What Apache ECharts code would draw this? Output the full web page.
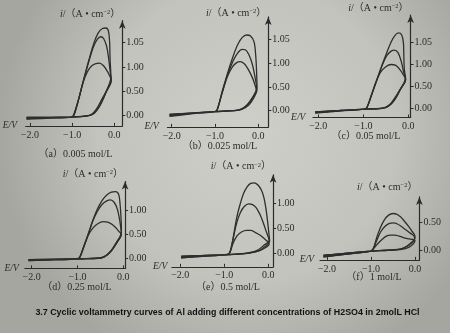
<!DOCTYPE html>
<html><head><meta charset="utf-8">
<script src="https://cdn.jsdelivr.net/npm/echarts@6/dist/echarts.min.js"></script>
<style>html,body{margin:0;padding:0;background:#bdbdb7}#c{width:450px;height:333px}</style>
</head><body><div id="c"></div>
<script>
// ---------- data ----------
const xTickValues = [-2, -1, 0];
const xTickLabels = ["−2.0", "−1.0", "0.0"];
const yTickLabels = ["0.00", "0.50", "1.00", "1.05"];   // printed labels at 0, 0.5, 1.0, 1.5
const yTickCounts = [4, 4, 4, 3, 3, 2];
const panelCaptions = ["（a）0.005 mol/L", "（b）0.025 mol/L", "（c）0.05 mol/L",
                       "（d）0.25 mol/L", "（e）0.5 mol/L", "（f）1 mol/L"];
const xAxisName = "E/V";
const yAxisName = "{it|i}/（A • cm{sup|−2}）";
const figureCaption = "3.7 Cyclic voltammetry curves of Al adding different concentrations of H2SO4 in 2molL HCl";

// panel (a) 0.005 mol/L — E (V), i (A·cm⁻²)
const scanA1 = [[-2.08,-0.07],[-1.5,-0.05],[-1.02,-0.03],[-0.96,0.02],[-0.85,0.33],[-0.73,0.73],[-0.6,1.15],[-0.48,1.5],[-0.38,1.7],[-0.28,1.79],[-0.2,1.8],[-0.14,1.74],[-0.11,1.5],[-0.1,1.15],[-0.08,0.8],[-0.18,0.52],[-0.32,0.24],[-0.46,0.06],[-0.6,0.0],[-0.8,-0.02],[-1.2,-0.03],[-2.08,-0.03]];
const scanA2 = [[-2.08,-0.06],[-1.5,-0.04],[-1.02,-0.03],[-0.96,0.02],[-0.85,0.32],[-0.73,0.72],[-0.6,1.12],[-0.5,1.4],[-0.4,1.57],[-0.32,1.62],[-0.25,1.58],[-0.18,1.42],[-0.13,1.15],[-0.09,0.85],[-0.07,0.74],[-0.2,0.47],[-0.36,0.18],[-0.5,0.04],[-0.62,0.0],[-1.0,-0.03],[-2.08,-0.04]];
const scanA3 = [[-2.08,-0.06],[-1.5,-0.04],[-1.0,-0.03],[-0.95,0.02],[-0.85,0.32],[-0.74,0.68],[-0.64,0.9],[-0.54,1.02],[-0.44,1.07],[-0.35,1.08],[-0.26,1.03],[-0.17,0.92],[-0.1,0.8],[-0.07,0.72],[-0.16,0.55],[-0.28,0.36],[-0.42,0.14],[-0.55,0.02],[-0.7,-0.01],[-1.0,-0.03],[-2.08,-0.05]];
// panel (b) 0.025 mol/L
const scanB1 = [[-2.05,-0.12],[-1.5,-0.06],[-1.0,-0.02],[-0.95,0.02],[-0.83,0.42],[-0.7,0.82],[-0.58,1.15],[-0.47,1.4],[-0.37,1.54],[-0.27,1.59],[-0.18,1.57],[-0.1,1.45],[-0.06,1.15],[-0.04,0.8],[-0.03,0.45],[-0.1,0.28],[-0.22,0.12],[-0.38,0.03],[-0.55,0.0],[-0.8,-0.01],[-1.2,-0.03],[-2.05,-0.08]];
const scanB2 = [[-2.05,-0.11],[-1.5,-0.05],[-1.0,-0.02],[-0.95,0.02],[-0.83,0.4],[-0.7,0.78],[-0.58,1.05],[-0.47,1.22],[-0.38,1.29],[-0.3,1.28],[-0.22,1.18],[-0.14,0.98],[-0.08,0.72],[-0.04,0.48],[-0.12,0.3],[-0.25,0.13],[-0.4,0.03],[-0.6,0.0],[-1.0,-0.02],[-2.05,-0.08]];
const scanB3 = [[-2.05,-0.1],[-1.5,-0.05],[-1.0,-0.02],[-0.95,0.02],[-0.84,0.36],[-0.72,0.7],[-0.6,0.92],[-0.5,1.01],[-0.42,1.03],[-0.33,0.99],[-0.24,0.88],[-0.14,0.7],[-0.07,0.52],[-0.04,0.42],[-0.14,0.26],[-0.28,0.1],[-0.45,0.02],[-0.62,0.0],[-1.0,-0.02],[-2.05,-0.09]];
// panel (c) 0.05 mol/L
const scanC1 = [[-2.07,-0.11],[-1.5,-0.06],[-0.98,-0.02],[-0.92,0.02],[-0.82,0.3],[-0.7,0.65],[-0.58,1.0],[-0.48,1.27],[-0.38,1.52],[-0.3,1.66],[-0.22,1.72],[-0.15,1.68],[-0.11,1.5],[-0.1,1.2],[-0.09,0.9],[-0.06,0.66],[-0.17,0.44],[-0.3,0.2],[-0.44,0.05],[-0.58,0.0],[-0.9,-0.02],[-2.07,-0.08]];
const scanC2 = [[-2.07,-0.1],[-1.5,-0.05],[-0.98,-0.02],[-0.92,0.02],[-0.82,0.3],[-0.7,0.64],[-0.58,0.98],[-0.48,1.2],[-0.39,1.3],[-0.31,1.33],[-0.23,1.27],[-0.16,1.08],[-0.11,0.85],[-0.07,0.68],[-0.2,0.4],[-0.34,0.15],[-0.48,0.03],[-0.62,0.0],[-0.95,-0.02],[-2.07,-0.08]];
const scanC3 = [[-2.07,-0.1],[-1.5,-0.05],[-0.98,-0.02],[-0.92,0.02],[-0.82,0.3],[-0.72,0.6],[-0.62,0.82],[-0.5,0.95],[-0.38,1.0],[-0.28,0.98],[-0.2,0.9],[-0.12,0.78],[-0.06,0.66],[-0.14,0.5],[-0.26,0.3],[-0.4,0.1],[-0.54,0.01],[-0.7,-0.01],[-1.0,-0.02],[-2.07,-0.09]];
// panel (d) 0.25 mol/L
const scanD1 = [[-2.07,-0.05],[-1.5,-0.03],[-1.0,-0.01],[-0.95,0.02],[-0.86,0.25],[-0.76,0.52],[-0.66,0.8],[-0.56,1.03],[-0.46,1.2],[-0.36,1.31],[-0.26,1.37],[-0.17,1.38],[-0.1,1.32],[-0.07,1.12],[-0.05,0.85],[-0.04,0.6],[-0.05,0.5],[-0.15,0.33],[-0.28,0.14],[-0.42,0.03],[-0.56,0.0],[-0.9,-0.01],[-2.07,-0.03]];
const scanD2 = [[-2.07,-0.05],[-1.5,-0.03],[-1.0,-0.01],[-0.95,0.02],[-0.86,0.25],[-0.76,0.51],[-0.66,0.78],[-0.56,0.98],[-0.46,1.12],[-0.36,1.19],[-0.28,1.21],[-0.2,1.16],[-0.13,1.02],[-0.08,0.8],[-0.05,0.6],[-0.04,0.5],[-0.14,0.32],[-0.28,0.13],[-0.42,0.03],[-0.58,0.0],[-0.9,-0.01],[-2.07,-0.03]];
const scanD3 = [[-2.07,-0.04],[-1.5,-0.03],[-1.0,-0.01],[-0.95,0.02],[-0.86,0.24],[-0.76,0.48],[-0.66,0.63],[-0.55,0.72],[-0.44,0.76],[-0.34,0.75],[-0.24,0.7],[-0.15,0.62],[-0.08,0.54],[-0.04,0.5],[-0.12,0.36],[-0.24,0.18],[-0.38,0.05],[-0.52,0.0],[-0.9,-0.01],[-2.07,-0.04]];
// panel (e) 0.5 mol/L
const scanE1 = [[-1.98,-0.09],[-1.5,-0.06],[-0.92,-0.02],[-0.87,0.02],[-0.8,0.3],[-0.72,0.7],[-0.64,0.98],[-0.56,1.2],[-0.48,1.33],[-0.4,1.4],[-0.32,1.41],[-0.24,1.37],[-0.16,1.27],[-0.1,1.12],[-0.05,0.88],[-0.01,0.6],[0.02,0.35],[0.03,0.24],[-0.08,0.13],[-0.22,0.05],[-0.4,0.01],[-0.6,-0.01],[-1.0,-0.03],[-1.98,-0.06]];
const scanE2 = [[-1.98,-0.09],[-1.5,-0.06],[-0.92,-0.02],[-0.87,0.02],[-0.8,0.28],[-0.72,0.6],[-0.63,0.82],[-0.54,0.94],[-0.45,0.99],[-0.37,0.98],[-0.28,0.92],[-0.19,0.78],[-0.11,0.6],[-0.04,0.42],[0.01,0.3],[0.02,0.25],[-0.1,0.16],[-0.25,0.06],[-0.45,0.01],[-0.65,-0.01],[-1.0,-0.03],[-1.98,-0.06]];
const scanE3 = [[-1.98,-0.08],[-1.5,-0.05],[-0.92,-0.02],[-0.87,0.02],[-0.8,0.2],[-0.71,0.35],[-0.6,0.43],[-0.5,0.46],[-0.4,0.46],[-0.3,0.42],[-0.2,0.37],[-0.1,0.3],[-0.02,0.24],[0.02,0.18],[-0.05,0.12],[-0.18,0.06],[-0.35,0.02],[-0.6,-0.01],[-1.0,-0.03],[-1.98,-0.06]];
// panel (f) 1 mol/L
const scanF1 = [[-2.08,-0.13],[-1.5,-0.07],[-1.0,-0.02],[-0.95,0.02],[-0.88,0.2],[-0.8,0.38],[-0.7,0.54],[-0.6,0.63],[-0.5,0.66],[-0.42,0.65],[-0.33,0.6],[-0.24,0.52],[-0.15,0.43],[-0.07,0.34],[0.0,0.25],[0.0,0.22],[-0.1,0.12],[-0.24,0.04],[-0.4,0.01],[-0.6,0.0],[-1.0,-0.02],[-2.08,-0.1]];
const scanF2 = [[-2.08,-0.12],[-1.5,-0.07],[-1.0,-0.02],[-0.95,0.02],[-0.87,0.17],[-0.78,0.33],[-0.68,0.43],[-0.58,0.48],[-0.49,0.49],[-0.4,0.47],[-0.3,0.42],[-0.2,0.36],[-0.1,0.3],[-0.02,0.25],[-0.01,0.2],[-0.12,0.1],[-0.28,0.03],[-0.45,0.0],[-0.7,-0.01],[-1.0,-0.02],[-2.08,-0.1]];
const scanF3 = [[-2.08,-0.12],[-1.5,-0.07],[-1.0,-0.02],[-0.95,0.02],[-0.86,0.1],[-0.75,0.19],[-0.65,0.25],[-0.56,0.27],[-0.46,0.27],[-0.36,0.25],[-0.25,0.22],[-0.14,0.2],[-0.05,0.19],[0.0,0.17],[-0.08,0.08],[-0.2,0.03],[-0.4,0.0],[-0.7,-0.01],[-1.0,-0.02],[-2.08,-0.1]];

const panelScans = [[scanA1,scanA2,scanA3],[scanB1,scanB2,scanB3],[scanC1,scanC2,scanC3],
                    [scanD1,scanD2,scanD3],[scanE1,scanE2,scanE3],[scanF1,scanF2,scanF3]];

// ---------- layout / style ----------
const layout = [
  {left:25.7, top:20.7, width:96.6, height:105.2, xMin:-2.1,  xMax:0.19, yMin:-0.21, yMax:1.95, nameGap:6,  evRaise:0,  cap:[75.5,154]},
  {left:167.4,top:16.9, width:100.9,height:110,   xMin:-2.1,  xMax:0.23, yMin:-0.34, yMax:1.97, nameGap:4,  evRaise:10, cap:[220,146.7]},
  {left:312.9,top:15.0, width:97.7, height:102.5, xMin:-2.12, xMax:0.05, yMin:-0.21, yMax:2.13, nameGap:7,  evRaise:0,  cap:[366,136.7]},
  {left:24.8, top:181.5,width:100.3,height:86.9,  xMin:-2.15, xMax:0.04, yMin:-0.21, yMax:1.59, nameGap:7.5,evRaise:0,  cap:[77,287.3]},
  {left:171.9,top:174.8,width:101.2,height:92,    xMin:-2.19, xMax:0.11, yMin:-0.27, yMax:1.57, nameGap:8,  evRaise:12, cap:[228,287.3]},
  {left:320,  top:196.9,width:99.4, height:63,    xMin:-2.16, xMax:0.10, yMin:-0.18, yMax:0.96, nameGap:10, evRaise:4,  cap:[374,277.3]}
];
const ink = '#2b2b2b';
const serif = '"Liberation Serif", "Noto Sans CJK SC", serif';

const grid = [], xAxis = [], yAxis = [], series = [], graphic = [];
layout.forEach((L, k) => {
  grid.push({left:L.left, top:L.top, width:L.width, height:L.height});
  const yVals = [0, 0.5, 1.0, 1.5].slice(0, yTickCounts[k]);
  xAxis.push({
    type:'value', gridIndex:k, min:L.xMin, max:L.xMax, position:'bottom',
    axisLine:{onZero:false, lineStyle:{color:ink, width:1.2}},
    axisTick:{inside:true, length:3, customValues:xTickValues, lineStyle:{color:ink}},
    axisLabel:{customValues:xTickValues, margin:4, color:ink, fontFamily:serif, fontSize:10,
      formatter: v => xTickLabels[xTickValues.indexOf(v)]},
    splitLine:{show:false},
    name:xAxisName, nameLocation:'start', nameGap:2,
    nameTextStyle:{fontStyle:'italic', fontFamily:serif, fontSize:9.5, color:ink,
      verticalAlign:'middle', padding:[0,0,L.evRaise,0]}
  });
  yAxis.push({
    type:'value', gridIndex:k, min:L.yMin, max:L.yMax, position:'right',
    axisLine:{show:true, onZero:false, symbol:['none','arrow'], symbolSize:[5,8], lineStyle:{color:ink, width:1.2}},
    axisTick:{show:true, inside:false, length:3, customValues:yVals, lineStyle:{color:ink}},
    axisLabel:{customValues:yVals, margin:4, color:ink, fontFamily:serif, fontSize:10,
      formatter: v => yTickLabels[Math.round(v / 0.5)]},
    splitLine:{show:false},
    name:yAxisName, nameLocation:'end', nameGap:L.nameGap,
    nameTextStyle:{align:'right', verticalAlign:'middle', padding:[0,2,0,0], fontFamily:serif, fontSize:10, color:ink,
      rich:{it:{fontStyle:'italic', fontFamily:serif, fontSize:10, color:ink},
            sup:{fontFamily:serif, fontSize:6.5, color:ink, verticalAlign:'top', padding:[0,0,4,0]}}}
  });
  panelScans[k].forEach(scan => {
    series.push({type:'line', xAxisIndex:k, yAxisIndex:k, data:scan, showSymbol:false, smooth:0.35,
      silent:true, lineStyle:{color:'#2e2e2e', width:1.3}});
  });
  graphic.push({type:'text', x:L.cap[0], y:L.cap[1],
    style:{text:panelCaptions[k], align:'center', verticalAlign:'middle', fill:ink, font:'10px ' + serif}});
});
graphic.push({type:'text', x:227.5, y:312.5,
  style:{text:figureCaption, align:'center', verticalAlign:'middle', fill:'#111',
         font:'bold 8.9px "Liberation Sans", Arial, sans-serif'}});

const chart = echarts.init(document.getElementById('c'), null, {renderer:'canvas'});
chart.setOption({
  animation:false,
  backgroundColor:{type:'radial', x:0.55, y:0.4, r:0.75,
    colorStops:[{offset:0, color:'#cfcfc9'},{offset:0.6, color:'#c3c3bd'},{offset:1, color:'#a6a6a0'}]},
  grid, xAxis, yAxis, series, graphic
});
</script></body></html>
